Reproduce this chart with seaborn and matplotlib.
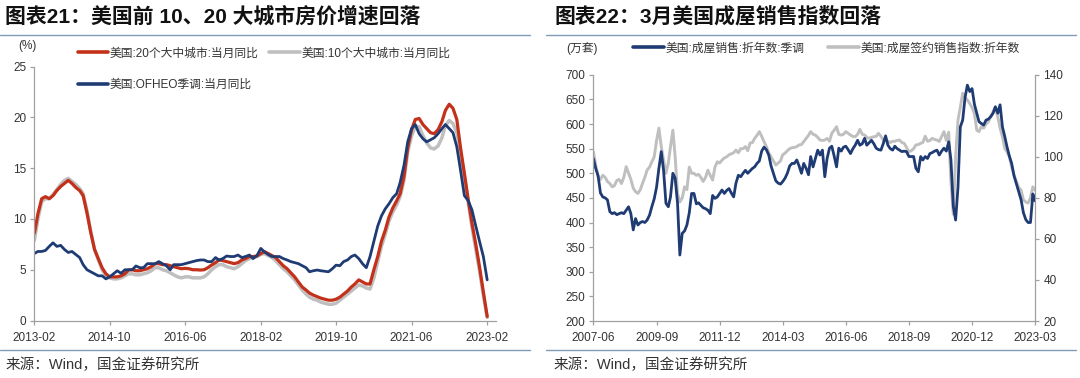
import numpy as np
import pandas as pd
import matplotlib
matplotlib.use('Agg')
import matplotlib.pyplot as plt
import matplotlib.dates as mdates
from matplotlib.lines import Line2D
import seaborn as sns

# ---------------- Left chart data (monthly, 2013-02 .. 2023-02) ----------------
cs20 = (
    [8.6, 10.5, 12.0, 12.2, 12.0, 12.3, 12.8, 13.2, 13.5, 13.8, 13.5] +
    [13.1, 12.8, 12.3, 10.6, 8.7, 7.0, 6.1, 5.2, 4.6, 4.3, 4.3, 4.3] +
    [4.4, 4.6, 4.97, 5.0, 4.9, 4.9, 5.0, 5.1, 5.3, 5.6, 5.6, 5.5] +
    [5.5, 5.4, 5.3, 5.2, 5.1, 5.14, 5.1, 5.0, 5.0, 4.97, 5.0, 5.2] +
    [5.47, 5.7, 5.96, 5.9, 5.8, 5.7, 5.6, 5.7, 5.96, 6.1, 6.3, 6.3] +
    [6.35, 6.6, 6.78, 6.6, 6.4, 6.2, 5.8, 5.4, 5.1, 4.7, 4.3, 3.8] +
    [3.3, 3.0, 2.7, 2.5, 2.35, 2.2, 2.1, 2.0, 2.0, 2.1, 2.3, 2.6] +
    [2.9, 3.3, 3.6, 4.0, 3.8, 3.6, 3.6, 5.0, 6.3, 7.8, 8.9, 10.2] +
    [11.1, 11.8, 12.5, 14.2, 17.0, 18.8, 19.8, 19.9, 19.3, 18.9, 18.5, 18.4] +
    [18.8, 19.6, 20.7, 21.3, 20.9, 19.8, 17.0, 14.5, 11.9, 9.6, 7.5, 5.3] +
    [2.8, 0.4]
)
cs10 = (
    [7.9, 10.0, 11.7, 12.0, 12.0, 12.4, 12.9, 13.4, 13.8, 14.0, 13.7] +
    [13.4, 13.0, 12.5, 10.8, 8.8, 7.0, 6.0, 5.0, 4.4, 4.2, 4.1, 4.1] +
    [4.2, 4.4, 4.6, 4.6, 4.5, 4.5, 4.6, 4.7, 4.9, 5.2, 5.2, 5.0] +
    [4.9, 4.7, 4.5, 4.3, 4.2, 4.3, 4.3, 4.2, 4.2, 4.2, 4.3, 4.6] +
    [5.0, 5.3, 5.5, 5.5, 5.3, 5.2, 5.1, 5.3, 5.6, 5.9, 6.1, 6.2] +
    [6.3, 6.5, 6.6, 6.4, 6.2, 5.9, 5.5, 5.1, 4.8, 4.4, 4.0, 3.5] +
    [3.0, 2.6, 2.3, 2.1, 2.0, 1.8, 1.7, 1.6, 1.6, 1.7, 2.0, 2.3] +
    [2.6, 2.9, 3.2, 3.5, 3.4, 3.2, 3.1, 4.2, 5.8, 7.3, 8.5, 9.8] +
    [10.7, 11.4, 12.2, 13.8, 16.6, 18.2, 19.1, 19.1, 18.2, 17.5, 17.0, 16.9] +
    [17.2, 18.0, 19.2, 19.7, 19.4, 18.5, 16.5, 14.2, 11.6, 9.2, 7.0, 4.9] +
    [2.5, 0.3]
)
fhfa = (
    [6.6, 6.8, 6.8, 6.9, 7.3, 7.65, 7.3, 7.4, 7.0, 6.7, 6.8] +
    [6.5, 6.2, 5.5, 5.0, 4.8, 4.6, 4.4, 4.4, 4.1, 4.3, 4.6, 4.9] +
    [4.65, 5.0, 5.0, 5.0, 5.37, 5.2, 5.2, 5.6, 5.6, 5.57, 5.8, 5.6] +
    [5.4, 5.0, 5.5, 5.5, 5.5, 5.6, 5.7, 5.8, 5.9, 5.96, 5.96, 5.8] +
    [5.8, 6.2, 5.96, 6.1, 6.35, 6.3, 6.3, 6.45, 6.2, 6.3, 6.45, 6.1] +
    [6.4, 7.1, 6.78, 6.5, 6.3, 6.3, 6.3, 6.1, 5.96, 5.8, 5.7, 5.6] +
    [5.4, 5.2, 4.8, 4.9, 4.97, 4.9, 4.85, 4.8, 5.1, 5.45, 5.4, 5.8] +
    [5.96, 6.3, 6.45, 6.1, 5.6, 5.2, 6.3, 7.8, 9.3, 10.3, 11.0, 11.5] +
    [12.1, 12.5, 13.6, 15.3, 17.6, 18.9, 19.3, 18.4, 17.9, 17.6, 17.8, 18.0] +
    [18.4, 18.9, 19.3, 18.9, 18.5, 17.1, 14.8, 12.3, 11.8, 10.9, 9.3, 7.8] +
    [6.3, 4.0]
)
left_start = '2013-02-01'
left_xticks = ['2013-02', '2014-10', '2016-06', '2018-02', '2019-10', '2021-06', '2023-02']
left_yticks = [0, 5, 10, 15, 20, 25]
left_labels = ['美国:20个大中城市:当月同比', '美国:OFHEO季调:当月同比', '美国:10个大中城市:当月同比']

# ---------------- Right chart data (monthly, 2007-06 .. 2023-03) ----------------
sales = (
    [530, 510, 495, 460, 452, 450, 446] +
    [422, 418, 420, 416, 418, 420, 418, 425, 432, 418, 385, 408] +
    [395, 400, 402, 400, 405, 415, 432, 448, 472, 510, 544, 506] +
    [439, 432, 452, 500, 490, 439, 334, 378, 383, 395, 420, 459] +
    [459, 438, 440, 435, 430, 428, 425, 418, 455, 449, 452, 459] +
    [466, 459, 465, 469, 460, 452, 480, 496, 493, 500, 506, 500] +
    [505, 510, 513, 520, 525, 545, 553, 548, 537, 515, 500, 485] +
    [480, 478, 483, 490, 500, 515, 520, 520, 527, 515, 500, 520] +
    [510, 497, 534, 513, 530, 547, 537, 547, 493, 530, 551, 555] +
    [535, 513, 551, 545, 553, 555, 548, 540, 550, 557, 567, 557] +
    [560, 571, 557, 562, 567, 560, 551, 548, 547, 560, 576, 557] +
    [550, 547, 555, 550, 547, 544, 545, 544, 534, 534, 534, 510] +
    [503, 534, 527, 534, 530, 540, 542, 545, 547, 537, 545, 551] +
    [545, 564, 527, 433, 405, 472, 594, 608, 654, 679, 666, 672] +
    [640, 622, 605, 601, 598, 608, 610, 615, 622, 635, 622, 639] +
    [594, 574, 554, 535, 520, 495, 479, 462, 446, 420, 406, 400] +
    [400, 458, 444]
)
pending = (
    [102.5, 96, 90.3, 89, 91, 90, 88] +
    [87, 85.4, 86, 88.5, 89, 87, 90, 95.2, 92, 89, 84.8, 83] +
    [82.2, 84, 87, 90, 93.6, 95, 97.6, 100, 108, 114, 105, 98.4] +
    [92, 97, 105, 113, 100, 82, 78, 80, 85.4, 84, 95, 92] +
    [92, 91, 91.5, 90, 88, 90, 93.5, 91, 88.7, 95, 97.6, 97] +
    [98.4, 99.5, 100, 101, 101.5, 102, 103.3, 102, 104, 104, 105, 103] +
    [106.7, 107, 109, 110.5, 112.3, 110, 107.4, 105, 102, 100, 98, 96] +
    [97, 98, 101, 101.8, 103, 104, 104.5, 104.6, 105, 105.8, 106, 107.5] +
    [109, 110.5, 112.3, 111, 110.6, 109.5, 108.2, 108, 108.2, 109, 107.6, 111.5] +
    [113, 114.7, 111, 110.6, 111, 112.3, 111.5, 110.6, 110, 109.8, 111, 113.4] +
    [111, 110.6, 109.5, 109, 109.5, 109.8, 110, 111.5, 110, 108.2, 108, 107.6] +
    [107, 107.6, 107.6, 108, 108.2, 107, 106.6, 104.5, 102.5, 103, 104, 105.8] +
    [106, 106.6, 107, 110.1, 107.6, 108, 109, 108.5, 108.2, 107.5, 110, 112.3] +
    [108, 112, 88, 72, 100, 118, 124, 131, 129, 127.7, 126, 124] +
    [121, 113, 112.3, 114.7, 114, 116, 117, 119.6, 122, 124.4, 119.6, 114] +
    [109.8, 104, 102.5, 100, 95, 91, 88, 85, 83.8, 79, 78, 77.5] +
    [80, 85.4, 83.8]
)
right_start = '2007-06-01'
right_xticks = ['2007-06', '2009-09', '2011-12', '2014-03', '2016-06', '2018-09', '2020-12', '2023-03']
right_yticks = [200, 250, 300, 350, 400, 450, 500, 550, 600, 650, 700]
right_y2ticks = [20, 40, 60, 80, 100, 120, 140]
right_labels = ['美国:成屋销售:折年数:季调', '美国:成屋签约销售指数:折年数']

# ---------------- style ----------------
sns.set_theme(style='white')
plt.rcParams['font.family'] = ['Liberation Sans', 'Noto Sans CJK SC', 'DejaVu Sans']
plt.rcParams['axes.unicode_minus'] = False

RED = '#C3311A'
GRAY = '#BFBFBF'
NAVY = '#1F3B73'
SPINE = '#A0A0A0'
TXT = '#333333'
SEP = '#7F9DB9'

W, H = 1080, 378
fig = plt.figure(figsize=(W / 100, H / 100), dpi=100)


def fx(px):
    return px / W


def fy(py):
    return 1 - py / H


def style_axis(ax):
    for s in ['top', 'right']:
        ax.spines[s].set_visible(False)
    for s in ['left', 'bottom']:
        ax.spines[s].set_color(SPINE)
        ax.spines[s].set_linewidth(0.9)
    ax.tick_params(axis='both', which='major', direction='out', length=3, width=0.9,
                   color=SPINE, labelsize=8.5, labelcolor=TXT, bottom=True, left=True)
    ax.tick_params(axis='x', pad=5)
    ax.tick_params(axis='y', pad=3)
    ax.grid(False)


# ---------------- Left chart ----------------
d1 = pd.date_range(left_start, periods=len(cs20), freq='MS')
ax1 = fig.add_axes([fx(34.4), fy(320.5), fx(496 - 34.4), (320.5 - 66.7) / H])
sns.lineplot(x=d1, y=cs10, ax=ax1, color=GRAY, lw=2.5)
sns.lineplot(x=d1, y=cs20, ax=ax1, color=RED, lw=2.3)
sns.lineplot(x=d1, y=fhfa, ax=ax1, color=NAVY, lw=2.0)
ax1.set_xlim(mdates.date2num(pd.Timestamp('2013-02-01')), mdates.date2num(pd.Timestamp('2023-04-13')))
ax1.set_ylim(0, 25)
ax1.set_yticks(left_yticks)
ax1.set_yticklabels([str(v) for v in left_yticks])
ax1.set_xticks(mdates.date2num(pd.to_datetime(left_xticks)))
ax1.set_xticklabels(left_xticks)
ax1.set_xlabel('')
ax1.set_ylabel('')
style_axis(ax1)

h_red = Line2D([], [], color=RED, lw=2.6)
h_gray = Line2D([], [], color=GRAY, lw=2.6)
h_navy = Line2D([], [], color=NAVY, lw=2.6)
fig.legend([h_red, h_navy, h_gray], left_labels, ncol=2, loc='upper left',
           bbox_to_anchor=(fx(77.5), fy(47.5)), bbox_transform=fig.transFigure,
           frameon=False, fontsize=8.5, handlelength=2.6, handletextpad=0.15,
           columnspacing=0.85, labelspacing=1.65, borderpad=0, borderaxespad=0,
           labelcolor=TXT)
fig.text(fx(27), fy(46.5), '(%)', ha='center', va='center', fontsize=8.5, color=TXT)

# ---------------- Right chart ----------------
d2 = pd.date_range(right_start, periods=len(sales), freq='MS')
ax2 = fig.add_axes([fx(593.4), fy(321), fx(1035 - 593.4), (321 - 74.8) / H])
ax2r = ax2.twinx()
sns.lineplot(x=d2, y=pending, ax=ax2r, color=GRAY, lw=2.1)
sns.lineplot(x=d2, y=sales, ax=ax2, color=NAVY, lw=2.0)
ax2.set_zorder(ax2r.get_zorder() + 1)
ax2.patch.set_visible(False)
ax2.set_xlim(mdates.date2num(pd.Timestamp('2007-06-01')), mdates.date2num(pd.Timestamp('2023-03-01')))
ax2.set_ylim(200, 700)
ax2.set_yticks(right_yticks)
ax2.set_yticklabels([str(v) for v in right_yticks])
ax2r.set_ylim(20, 140)
ax2r.set_yticks(right_y2ticks)
ax2r.set_yticklabels([str(v) for v in right_y2ticks])
ax2.set_xticks(mdates.date2num(pd.to_datetime(right_xticks)))
ax2.set_xticklabels(right_xticks)
for a in (ax2, ax2r):
    a.set_xlabel('')
    a.set_ylabel('')
style_axis(ax2)
for s in ['top', 'left', 'bottom']:
    ax2r.spines[s].set_visible(False)
ax2r.spines['right'].set_visible(True)
ax2r.spines['right'].set_color(SPINE)
ax2r.spines['right'].set_linewidth(0.9)
ax2r.tick_params(axis='y', which='major', direction='out', length=3, width=0.9,
                 color=SPINE, labelsize=8.5, labelcolor=TXT, right=True, left=False, pad=3)
ax2r.grid(False)

fig.legend([h_navy, h_gray], right_labels, ncol=2, loc='upper left',
           bbox_to_anchor=(fx(633), fy(42.5)), bbox_transform=fig.transFigure,
           frameon=False, fontsize=8.5, handlelength=2.6, handletextpad=0.15,
           columnspacing=2.0, borderpad=0, borderaxespad=0, labelcolor=TXT)
fig.text(fx(582), fy(49), '(万套)', ha='center', va='center', fontsize=8.5, color=TXT)

# ---------------- Titles, separators, sources ----------------
fig.text(fx(5), fy(16), '图表21：美国前 10、20 大城市房价增速回落', ha='left', va='center',
         fontsize=15, fontweight='bold', color='#111111')
fig.text(fx(555), fy(16), '图表22：3月美国成屋销售指数回落', ha='left', va='center',
         fontsize=15, fontweight='bold', color='#111111')
for (x0, x1) in [(0, 530), (546, 1076)]:
    fig.add_artist(Line2D([fx(x0), fx(x1)], [fy(34.5), fy(34.5)], transform=fig.transFigure,
                          color=SEP, lw=1.0))
    fig.add_artist(Line2D([fx(x0), fx(x1)], [fy(350), fy(350)], transform=fig.transFigure,
                          color=SEP, lw=1.0))
fig.text(fx(6), fy(365), '来源：Wind，国金证券研究所', ha='left', va='center', fontsize=10.5, color=TXT)
fig.text(fx(554), fy(365), '来源：Wind，国金证券研究所', ha='left', va='center', fontsize=10.5, color=TXT)

fig.savefig('out.png', dpi=100)
